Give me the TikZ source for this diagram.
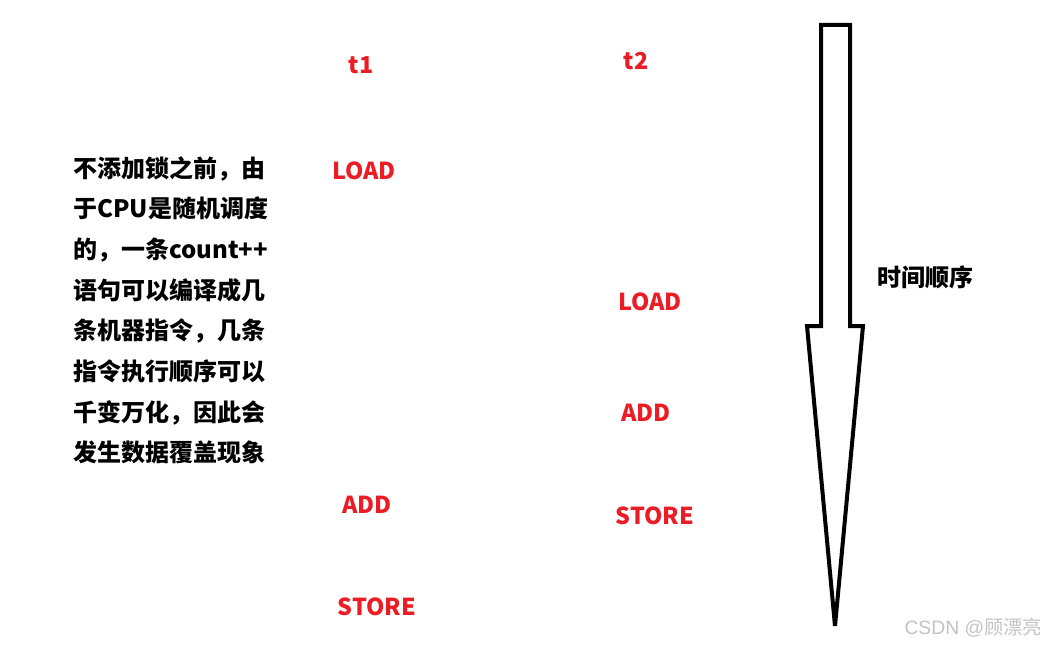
\documentclass[tikz,border=0pt]{standalone}
\usepackage{fontspec}
\usepackage{xcolor}
\setmainfont{Noto Sans CJK SC}
\newfontfamily\cjk{Noto Sans CJK SC}
\newfontfamily\wmfont{Liberation Sans}
\definecolor{ink}{HTML}{000000}
\definecolor{opred}{HTML}{EC1C24}
\definecolor{mark}{HTML}{C4C4C4}

\begin{document}
\begin{tikzpicture}[
  x=0.75pt,y=-0.75pt,
  op/.style={font=\cjk\fontsize{17.5}{20}\selectfont\bfseries,text=opred,inner sep=0pt},
  note/.style={font=\cjk\fontsize{18}{30.5}\selectfont\bfseries,text=ink,align=left,inner sep=0pt},
  timearrow/.style={draw=ink,line width=3pt,line join=miter}
]
\useasboundingbox[fill=white] (0,0) rectangle (1052,645);

% Explanation
\node[note,anchor=north west] (expl) at (73,156)
  {不添加锁之前，由\\于CPU是随机调度\\的，一条count++\\语句可以编译成几\\条机器指令，几条\\指令执行顺序可以\\千变万化，因此会\\发生数据覆盖现象};

% Thread t1
\node[op] (t1) at (361,65) {t1};
\node[op] (load1) at (364,171) {LOAD};
\node[op] (add1) at (367,505) {ADD};
\node[op] (store1) at (377,607) {STORE};

% Thread t2
\node[op] (t2) at (636,61) {t2};
\node[op] (load2) at (650,302) {LOAD};
\node[op] (add2) at (646,413) {ADD};
\node[op] (store2) at (655,516) {STORE};

% Time arrow
\draw[timearrow] (821,25) -- (850,25) -- (850,326) -- (863,326)
  -- (835,626) -- (807,326) -- (821,326) -- cycle;
\node[font=\cjk\fontsize{18}{20}\selectfont\bfseries,text=ink] (order) at (925,277) {时间顺序};

% Watermark
\node[font=\cjk\fontsize{14.5}{16}\selectfont,text=mark,anchor=east] (wm) at (1047,628) {{\wmfont CSDN @}顾漂亮};

\end{tikzpicture}
\end{document}
